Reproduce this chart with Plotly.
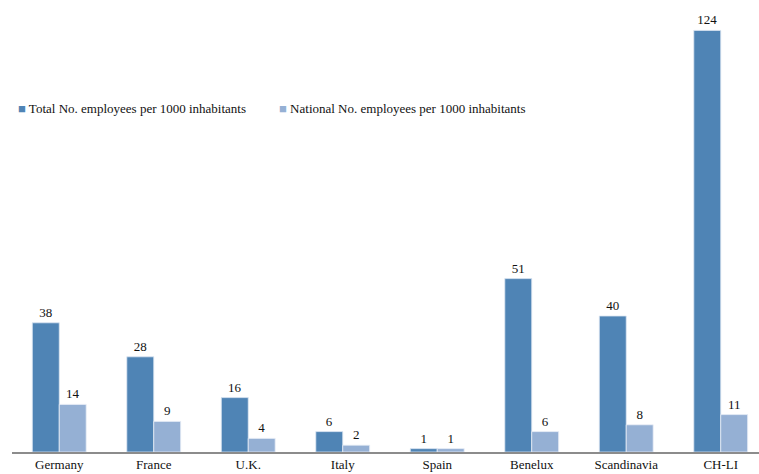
import plotly.graph_objects as go

regions = ["Germany", "France", "U.K.", "Italy", "Spain", "Benelux", "Scandinavia", "CH-LI"]
total_per_1000 = [38, 28, 16, 6, 1, 51, 40, 124]
national_per_1000 = [14, 9, 4, 2, 1, 6, 8, 11]
series_names = ["Total No. employees per 1000 inhabitants",
                "National No. employees per 1000 inhabitants"]

dark_blue = "#4F84B5"
light_blue = "#95B0D4"
font_family = "Liberation Serif, Times New Roman, serif"

xpos = list(range(len(regions)))

fig = go.Figure()
fig.add_trace(go.Bar(
    x=xpos, y=total_per_1000, name=series_names[0],
    marker=dict(color=dark_blue, line=dict(color="#DCE6F2", width=0.8)),
    text=total_per_1000, textposition="outside", cliponaxis=False,
    textfont=dict(family=font_family, size=13, color="#111"),
))
fig.add_trace(go.Bar(
    x=xpos, y=national_per_1000, name=series_names[1],
    marker=dict(color=light_blue, line=dict(color="#E8EEF6", width=0.8)),
    text=national_per_1000, textposition="outside", cliponaxis=False,
    textfont=dict(family=font_family, size=13, color="#111"),
))

# Inline key: a small coloured square followed by the series name
key_x = [0.006, 0.355]
for name, color, kx in zip(series_names, [dark_blue, light_blue], key_x):
    fig.add_annotation(
        xref="paper", yref="paper", x=kx, y=0.778,
        xanchor="left", yanchor="middle", showarrow=False,
        text=f"<span style='color:{color};font-size:13px'>■</span> {name}",
        font=dict(family=font_family, size=13, color="#111"),
    )

fig.update_layout(
    width=759, height=474,
    margin=dict(l=12, r=0, t=10, b=22),
    paper_bgcolor="white", plot_bgcolor="white",
    barmode="group", bargap=0.43, bargroupgap=0,
    font=dict(family=font_family, size=13, color="#111"),
    showlegend=False,
    xaxis=dict(
        tickmode="array", tickvals=xpos, ticktext=regions,
        range=[-0.5, 7.405], showgrid=False, zeroline=False,
        showline=True, linecolor="#8C8C8C", linewidth=1.5,
        ticks="", tickfont=dict(family=font_family, size=13, color="#111"),
    ),
    yaxis=dict(
        range=[0, 130], visible=False, showgrid=False, zeroline=False,
    ),
)

fig.write_html("out.html")
